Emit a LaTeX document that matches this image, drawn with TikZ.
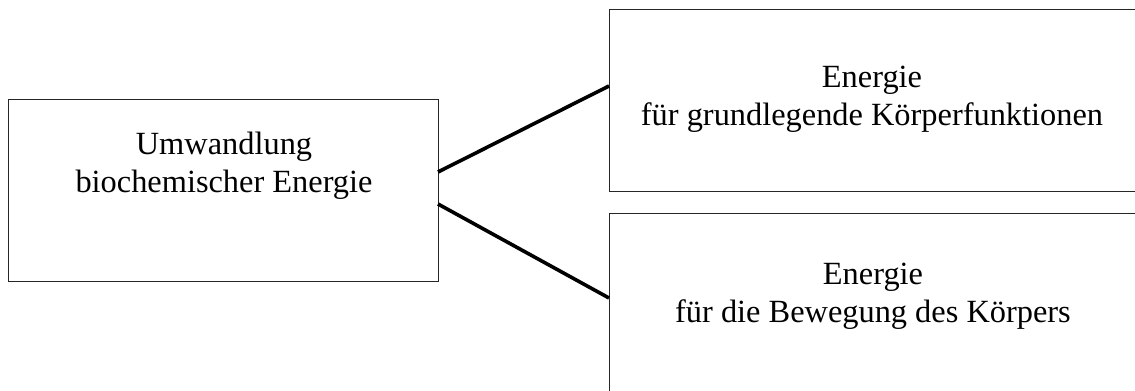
\documentclass[tikz,border=0pt]{standalone}
\usepackage{fontspec}
\setmainfont{Liberation Serif}
\begin{document}
\begin{tikzpicture}[x=1bp,y=1bp,
  box/.style={draw=black!85, line width=0.9bp, minimum width=#1, minimum height=182bp, inner sep=0pt, outer sep=0pt},
  label/.style={align=center, inner sep=0pt, font=\fontsize{32.5}{38}\selectfont},
  link/.style={line width=3.6bp, black}]
\useasboundingbox (0,0) rectangle (1135,390);
\clip (0,0) rectangle (1135,390);
% boxes
\node[box=430bp] (src) at (223,199.5) {};
\node[box=531bp] (basic) at (874.5,290) {};
\node[box=531bp] (move) at (874.5,86) {};
% texts
\node[label] (srctext) at (224,224.5) {Umwandlung\\biochemischer Energie};
\node[label] (basictext) at (872,291) {Energie\\für grundlegende Körperfunktionen};
\node[label] (movetext) at (873,94) {Energie\\für die Bewegung des Körpers};
% connectors
\draw[link] ([yshift=18.5bp]src.east) -- ([yshift=14bp]basic.west);
\draw[link] ([yshift=-13.5bp]src.east) -- ([yshift=6bp]move.west);
\end{tikzpicture}
\end{document}
